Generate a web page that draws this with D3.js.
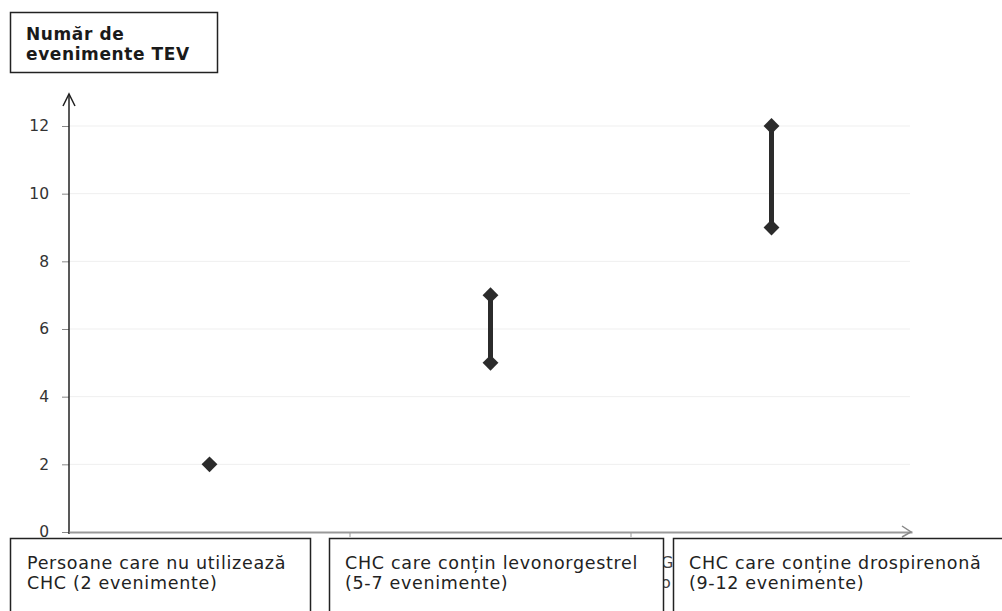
<!DOCTYPE html>
<html><head><meta charset="utf-8">
<script src="https://cdn.jsdelivr.net/npm/d3@7"></script>
<style>body{margin:0;background:#fff;} svg{display:block;}</style>
</head><body>
<svg id="c" width="1002" height="611"></svg>
<script>
const categories = ["Persoane care nu utilizează CHC", "CHC care conțin levonorgestrel", "CHC care conține drospirenonă"];
const lowValues = [2, 5, 9];
const highValues = [2, 7, 12];
const yTicks = [0, 2, 4, 6, 8, 10, 12];
const titleLines = ["Număr de", "evenimente TEV"];
const labelLines = [
  ["Persoane care nu utilizează", "CHC (2 evenimente)"],
  ["CHC care conțin levonorgestrel", "(5-7 evenimente)"],
  ["CHC care conține drospirenonă", "(9-12 evenimente)"]
];

const svg = d3.select("#c");
const font = "Verdana, 'DejaVu Sans', sans-serif";
const x0 = 69, x1 = 912, yBase = 532;
const x = d3.scaleBand().domain(categories).range([x0, x1]);
const y = d3.scaleLinear().domain([0, 12]).range([yBase, 126]);

// gridlines
svg.append("g").selectAll("line").data(yTicks.filter(d => d > 0)).join("line")
  .attr("x1", x0).attr("x2", 910).attr("y1", d => y(d)).attr("y2", d => y(d))
  .attr("stroke", "#efefef").attr("stroke-width", 1);

// y axis
const yAxis = d3.axisLeft(y).tickValues(yTicks).tickSize(7).tickPadding(13);
const gy = svg.append("g").attr("transform", `translate(${x0},0)`).call(yAxis);
gy.select(".domain").remove();
gy.selectAll(".tick line").attr("stroke", "#888");
gy.selectAll(".tick text").attr("font-family", font).attr("font-size", 15.5).attr("fill", "#333");
svg.append("line").attr("x1", x0).attr("x2", x0).attr("y1", yBase + 2).attr("y2", 94)
  .attr("stroke", "#222").attr("stroke-width", 1.5);
svg.append("path").attr("d", `M${x0-6},${106} L${x0},${94} L${x0+6},${106}`)
  .attr("fill", "none").attr("stroke", "#222").attr("stroke-width", 1.5);

// x axis
const xAxis = d3.axisBottom(x).tickSize(0).tickFormat("");
const gx = svg.append("g").attr("transform", `translate(0,${yBase})`).call(xAxis);
gx.select(".domain").attr("stroke", "#999").attr("stroke-width", 2);
svg.append("g").selectAll("line").data(categories.slice(1)).join("line")
  .attr("x1", d => x(d)).attr("x2", d => x(d)).attr("y1", yBase).attr("y2", yBase + 5)
  .attr("stroke", "#999");
svg.append("path").attr("d", `M${x1-10},${yBase-6} L${x1-1},${yBase} L${x1-10},${yBase+5}`)
  .attr("fill", "none").attr("stroke", "#888").attr("stroke-width", 1.5);

// range bars
const data = categories.map((c, i) => ({c, lo: lowValues[i], hi: highValues[i]}));
const cx = d => x(d.c) + x.bandwidth() / 2;
svg.append("g").selectAll("line").data(data.filter(d => d.hi > d.lo)).join("line")
  .attr("x1", cx).attr("x2", cx).attr("y1", d => y(d.lo)).attr("y2", d => y(d.hi))
  .attr("stroke", "#2b2b2b").attr("stroke-width", 5);
const diamond = d3.symbol().type(d3.symbolDiamond2).size(160);
const pts = [];
data.forEach(d => { pts.push({c: d.c, v: d.lo}); if (d.hi !== d.lo) pts.push({c: d.c, v: d.hi}); });
svg.append("g").selectAll("path").data(pts).join("path")
  .attr("d", diamond)
  .attr("transform", d => `translate(${x(d.c) + x.bandwidth()/2},${y(d.v)})`)
  .attr("fill", "#2b2b2b");

// fragments of underlying labels peeking between boxes
svg.append("text").attr("font-family", font).attr("font-size", 16).attr("fill", "#444")
  .selectAll("tspan").data(["G", "o"]).join("tspan")
  .attr("x", 661).attr("y", (d, i) => 568 + i * 20).text(d => d);

// title box
svg.append("rect").attr("x", 10.5).attr("y", 12.5).attr("width", 207).attr("height", 60)
  .attr("fill", "#fff").attr("stroke", "#222").attr("stroke-width", 1.5);
svg.append("text").attr("font-family", font).attr("font-size", 17).attr("font-weight", "bold")
  .attr("letter-spacing", 0.6).attr("fill", "#1a1a1a")
  .selectAll("tspan").data(titleLines).join("tspan")
  .attr("x", 26).attr("y", (d, i) => 40 + i * 20).text(d => d);

// label boxes
const boxes = [
  {x: 10.5, w: 300, tx: 27},
  {x: 329.5, w: 334, tx: 345},
  {x: 673.5, w: 340, tx: 689}
];
const lg = svg.append("g").selectAll("g").data(labelLines).join("g");
lg.append("rect").attr("x", (d, i) => boxes[i].x).attr("y", 538.5).attr("width", (d, i) => boxes[i].w).attr("height", 90)
  .attr("fill", "#fff").attr("stroke", "#222").attr("stroke-width", 1.5);
lg.append("text").attr("font-family", font).attr("font-size", 17.5).attr("letter-spacing", 0.7).attr("fill", "#222")
  .each(function(d, i) {
    d3.select(this).selectAll("tspan").data(d).join("tspan")
      .attr("x", boxes[i].tx).attr("y", (t, j) => 569 + j * 20).text(t => t);
  });
</script>
</body></html>
